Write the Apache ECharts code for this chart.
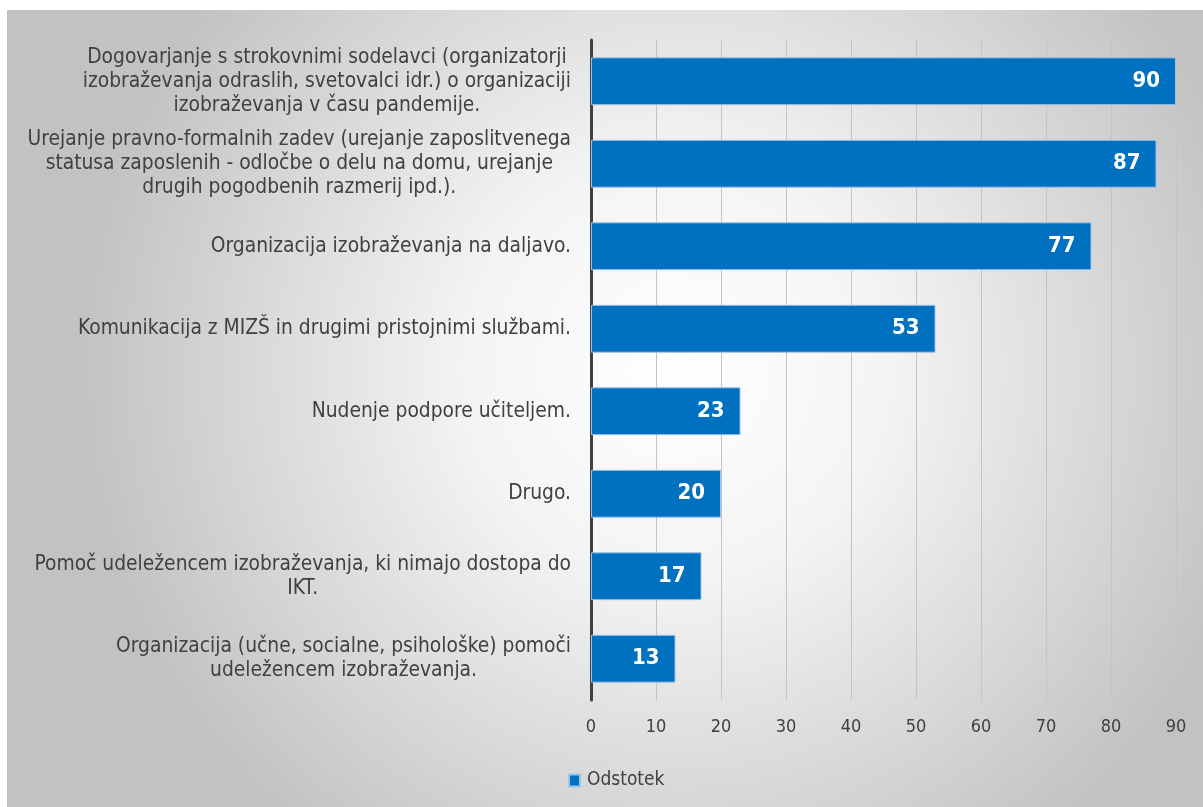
<!DOCTYPE html>
<html>
<head>
<meta charset="utf-8">
<script src="https://cdn.jsdelivr.net/npm/echarts@6/dist/echarts.min.js"></script>
<style>
  html, body { margin: 0; padding: 0; background: #fff; }
  #chart { position: absolute; left: 7px; top: 10px; width: 1196px; height: 797px; }
</style>
</head>
<body>
<div id="chart"></div>
<script>
const categories = [
  'Dogovarjanje s strokovnimi sodelavci (organizatorji\nizobraževanja odraslih, svetovalci idr.) o organizaciji\nizobraževanja v času pandemije.',
  'Urejanje pravno-formalnih zadev (urejanje zaposlitvenega\nstatusa zaposlenih - odločbe o delu na domu, urejanje\ndrugih pogodbenih razmerij ipd.).',
  'Organizacija izobraževanja na daljavo.',
  'Komunikacija z MIZŠ in drugimi pristojnimi službami.',
  'Nudenje podpore učiteljem.',
  'Drugo.',
  'Pomoč udeležencem izobraževanja, ki nimajo dostopa do\nIKT.',
  'Organizacija (učne, socialne, psihološke) pomoči\nudeležencem izobraževanja.'
];
const values = [90, 87, 77, 53, 23, 20, 17, 13];
const seriesName = 'Odstotek';

const font = '"DejaVu Sans Condensed", "DejaVu Sans", sans-serif';
const chart = echarts.init(document.getElementById('chart'));

const option = {
  backgroundColor: new echarts.graphic.RadialGradient(0.56, 0.45, 0.75, [
    { offset: 0, color: '#ffffff' },
    { offset: 0.35, color: '#f4f4f4' },
    { offset: 1, color: '#c2c2c2' }
  ]),
  animation: false,
  textStyle: { fontFamily: font },
  legend: {
    data: [seriesName],
    left: 556,
    top: 756,
    itemWidth: 11,
    itemHeight: 12,
    icon: 'rect',
    textStyle: { fontSize: 19, color: '#404040', fontFamily: font, padding: [0, 0, 0, 2] }
  },
  grid: {
    left: 584,
    right: 27,
    top: 30,
    bottom: 107,
    containLabel: false
  },
  xAxis: {
    type: 'value',
    min: 0,
    max: 90,
    interval: 10,
    axisLine: { show: false },
    axisTick: { show: false },
    splitLine: { lineStyle: { color: '#c4c4c4', width: 1 } },
    axisLabel: { color: '#404040', fontSize: 18, margin: 18, fontFamily: font }
  },
  yAxis: {
    type: 'category',
    inverse: true,
    data: categories,
    axisLine: { lineStyle: { color: '#404040', width: 3 } },
    axisTick: { show: false },
    axisLabel: {
      margin: 20,
      fontSize: 20.8,
      lineHeight: 24,
      color: '#404040',
      fontFamily: font,
      formatter: function (v) {
        return v.split('\n').map(function (l) { return '{c|' + l + '}'; }).join('\n');
      },
      rich: {
        c: { align: 'center', fontSize: 20.8, lineHeight: 24, color: '#404040', fontFamily: font }
      }
    }
  },
  series: [{
    name: seriesName,
    type: 'bar',
    data: values,
    barWidth: '58%',
    itemStyle: {
      color: '#0070C0',
      borderColor: '#9dc3e6',
      borderWidth: 1
    },
    label: {
      show: true,
      position: 'insideRight',
      distance: 16,
      color: '#ffffff',
      fontWeight: 'bold',
      fontSize: 22,
      fontFamily: font
    }
  }]
};
chart.setOption(option);
</script>
</body>
</html>
